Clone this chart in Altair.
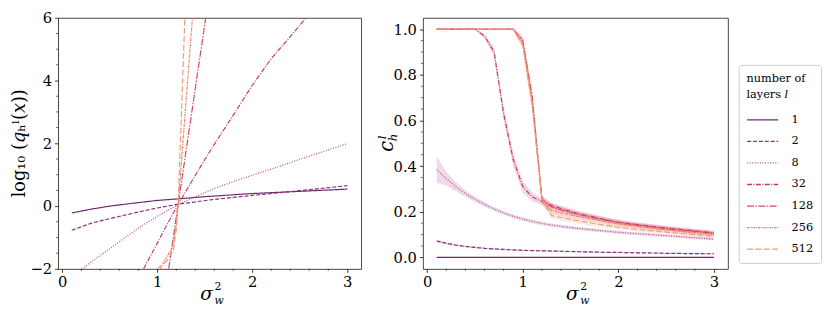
import altair as alt
import pandas as pd

FONT = "DejaVu Serif"

# ---------------- series meta ----------------
LAYERS = ["1", "2", "8", "32", "128", "256", "512"]
COLORS = ["#6a2a6e", "#8a2f78", "#b0468a", "#c43a6f", "#d9485c", "#ec7a5e", "#f19c7a"]
DASHES = [[1, 0], [4, 2], [1, 1.6], [5, 1.5, 1, 1.5], [7, 1.5, 1.5, 1.5], [2.5, 1, 1, 1], [6, 2.5]]

# ---------------- left panel: log10(q_h^l(x)) ----------------
L1_X = [0.1, 0.3, 0.5, 0.8, 1.0, 1.22, 1.5, 2.0, 2.5, 3.0]
L1_Y = [-0.22, -0.10, 0.0, 0.11, 0.18, 0.23, 0.30, 0.40, 0.47, 0.54]
L2_X = [0.1, 0.3, 0.5, 0.8, 1.0, 1.22, 1.56, 2.0, 2.5, 3.0]
L2_Y = [-0.77, -0.55, -0.40, -0.19, -0.06, 0.06, 0.20, 0.34, 0.49, 0.65]
L8_X = [0.21, 0.3, 0.4, 0.5, 0.6, 0.7, 0.8, 0.9, 1.0, 1.1, 1.22, 1.4, 1.6, 1.8, 2.0, 2.26, 2.5, 2.75, 3.0]
L8_Y = [-2.0, -1.79, -1.57, -1.36, -1.14, -0.92, -0.70, -0.51, -0.33, -0.15, 0.05, 0.30, 0.56, 0.78, 0.98, 1.24, 1.49, 1.74, 1.99]
L32_X = [0.856, 1.0, 1.1, 1.22, 1.4, 1.56, 1.8, 2.0, 2.2, 2.4, 2.565]
L32_Y = [-2.0, -1.18, -0.60, 0.06, 0.98, 1.78, 2.90, 3.85, 4.70, 5.40, 6.0]
L128_X = [1.12, 1.22, 1.51]
L128_Y = [-2.0, 0.06, 6.0]
L256_X = [1.03, 1.10, 1.16, 1.20, 1.22, 1.37]
L256_Y = [-2.0, -1.62, -1.30, -0.60, 0.06, 6.0]
L512_X = [1.0, 1.10, 1.17, 1.20, 1.22, 1.29]
L512_Y = [-2.0, -1.75, -1.40, -0.75, 0.06, 6.0]

LEFT_X = [L1_X, L2_X, L8_X, L32_X, L128_X, L256_X, L512_X]
LEFT_Y = [L1_Y, L2_Y, L8_Y, L32_Y, L128_Y, L256_Y, L512_Y]

# ---------------- right panel: c_h^l ----------------
SIG = [0.1, 0.2, 0.3, 0.4, 0.5, 0.6, 0.7, 0.8, 0.9, 1.0,
       1.1, 1.2, 1.3, 1.4, 1.5, 1.6, 1.7, 1.8, 1.9, 2.0,
       2.1, 2.2, 2.3, 2.4, 2.5, 2.6, 2.7, 2.8, 2.9, 3.0]
C1 = [0.0] * 30
C2 = [0.072, 0.062, 0.054, 0.048, 0.044, 0.040, 0.037, 0.035, 0.033, 0.031,
      0.030, 0.029, 0.028, 0.027, 0.026, 0.025, 0.024, 0.023, 0.022, 0.022,
      0.021, 0.020, 0.020, 0.019, 0.018, 0.018, 0.017, 0.017, 0.016, 0.016]
C8 = [0.385, 0.345, 0.310, 0.280, 0.255, 0.232, 0.212, 0.195, 0.180, 0.168,
      0.158, 0.149, 0.142, 0.136, 0.131, 0.126, 0.122, 0.118, 0.114, 0.110,
      0.107, 0.104, 0.101, 0.098, 0.095, 0.092, 0.089, 0.086, 0.083, 0.080]
C32 = [1.0, 1.0, 1.0, 1.0, 1.0, 0.970, 0.900, 0.630, 0.430, 0.310,
       0.265, 0.245, 0.228, 0.214, 0.202, 0.190, 0.181, 0.172, 0.163, 0.155,
       0.149, 0.144, 0.139, 0.134, 0.129, 0.125, 0.120, 0.116, 0.112, 0.107]
C128 = [1.0, 1.0, 1.0, 1.0, 1.0, 1.0, 1.0, 1.0, 1.0, 0.950,
        0.700, 0.255, 0.222, 0.208, 0.197, 0.187, 0.178, 0.169, 0.161, 0.153,
        0.147, 0.141, 0.136, 0.131, 0.127, 0.122, 0.118, 0.114, 0.110, 0.105]
C256 = [1.0, 1.0, 1.0, 1.0, 1.0, 1.0, 1.0, 1.0, 1.0, 0.940,
        0.680, 0.250, 0.205, 0.195, 0.186, 0.178, 0.170, 0.162, 0.155, 0.148,
        0.142, 0.136, 0.131, 0.126, 0.122, 0.117, 0.113, 0.109, 0.105, 0.101]
C512 = [1.0, 1.0, 1.0, 1.0, 1.0, 1.0, 1.0, 1.0, 1.0, 0.930,
        0.660, 0.255, 0.183, 0.175, 0.167, 0.159, 0.152, 0.145, 0.139, 0.133,
        0.128, 0.123, 0.119, 0.115, 0.111, 0.107, 0.103, 0.100, 0.096, 0.093]
# half-width of the shaded band
S1 = [0.0] * 30
S2 = [0.005, 0.005, 0.004, 0.004, 0.004, 0.004, 0.004, 0.004, 0.004, 0.004,
      0.003, 0.003, 0.003, 0.003, 0.003, 0.003, 0.003, 0.003, 0.003, 0.003,
      0.003, 0.003, 0.003, 0.003, 0.003, 0.003, 0.003, 0.003, 0.003, 0.003]
S8 = [0.058, 0.030, 0.020, 0.015, 0.012, 0.010, 0.009, 0.008, 0.008, 0.008,
      0.008, 0.008, 0.007, 0.007, 0.007, 0.007, 0.007, 0.007, 0.007, 0.007,
      0.006, 0.006, 0.006, 0.006, 0.006, 0.006, 0.006, 0.006, 0.006, 0.006]
S32 = [0.002, 0.002, 0.002, 0.002, 0.004, 0.010, 0.020, 0.030, 0.030, 0.025,
       0.020, 0.015, 0.012, 0.012, 0.012, 0.012, 0.011, 0.011, 0.011, 0.011,
       0.010, 0.010, 0.010, 0.010, 0.010, 0.010, 0.010, 0.010, 0.010, 0.010]
S128 = [0.002, 0.002, 0.002, 0.002, 0.002, 0.002, 0.002, 0.002, 0.004, 0.020,
        0.030, 0.020, 0.015, 0.013, 0.012, 0.012, 0.012, 0.011, 0.011, 0.011,
        0.010, 0.010, 0.010, 0.010, 0.010, 0.010, 0.010, 0.010, 0.010, 0.010]
S256 = S128
S512 = S128

RIGHT_C = [C1, C2, C8, C32, C128, C256, C512]
RIGHT_S = [S1, S2, S8, S32, S128, S256, S512]

# minor ticks
X_MINOR = [0.2, 0.4, 0.6, 0.8, 1.2, 1.4, 1.6, 1.8, 2.2, 2.4, 2.6, 2.8]
YL_MINOR = [-1.5, -1.0, -0.5, 0.5, 1.0, 1.5, 2.5, 3.0, 3.5, 4.5, 5.0, 5.5]
YR_MINOR = [0.05, 0.10, 0.15, 0.25, 0.30, 0.35, 0.45, 0.50, 0.55, 0.65, 0.70, 0.75,
            0.85, 0.90, 0.95]

# ---------------- tables ----------------
rows = []
for lay, xs, ys in zip(LAYERS, LEFT_X, LEFT_Y):
    for xv, yv in zip(xs, ys):
        rows.append({"layers": lay, "x": xv, "y": yv})
df_left = pd.DataFrame(rows)

rows = []
for lay, cs, ss in zip(LAYERS, RIGHT_C, RIGHT_S):
    for xv, cv, sv in zip(SIG, cs, ss):
        rows.append({"layers": lay, "x": xv, "c": cv, "lo": cv - sv, "hi": cv + sv})
df_right = pd.DataFrame(rows)

W_L, W_R, H = 309, 311, 256
XDOM = [-0.045, 3.145]

color_scale = alt.Scale(domain=LAYERS, range=COLORS)
dash_scale = alt.Scale(domain=LAYERS, range=DASHES)

x_axis = alt.Axis(values=[0, 1, 2, 3], format="d", title=None, labelFlush=False)
xq = alt.X("x:Q", scale=alt.Scale(domain=XDOM, nice=False, zero=False), axis=x_axis)

legend = alt.Legend(
    title=["number of", "layers 𝑙"], orient="none", legendX=694, legendY=48,
    symbolType="stroke", symbolSize=1000, symbolStrokeWidth=1.3,
    labelFont=FONT, labelFontSize=11.5, titleFont=FONT, titleFontSize=11.5,
    titleFontWeight="normal", titlePadding=3, rowPadding=-5, labelOffset=13,
    titleLineHeight=17,
    strokeColor="#cccccc", cornerRadius=3, padding=8, fillColor="white",
)


def minor_x():
    return alt.Chart(pd.DataFrame({"v": X_MINOR})).mark_rule(color="black", strokeWidth=0.6).encode(
        x=alt.X("v:Q"), y=alt.value(H), y2=alt.value(H + 2)
    )


def minor_y(vals):
    return alt.Chart(pd.DataFrame({"v": vals})).mark_rule(color="black", strokeWidth=0.6).encode(
        y=alt.Y("v:Q"), x=alt.value(0), x2=alt.value(-2)
    )


def text_at(txt, x, y, size=17, style="normal", angle=0, align="center", baseline="alphabetic"):
    return alt.Chart(alt.Data(values=[{}])).mark_text(
        text=txt, font=FONT, fontSize=size, fontStyle=style, angle=angle,
        align=align, baseline=baseline, color="black",
    ).encode(x=alt.value(x), y=alt.value(y))


def xtitle(w):
    c = w / 2
    return [
        text_at("σ", c - 3, H + 32, size=19, style="italic"),
        text_at("2", c + 5, H + 22, size=11, align="left"),
        text_at("w", c + 5, H + 36, size=11, style="italic", align="left"),
    ]


def lines(df, ycol, yaxis, ydom):
    return alt.Chart(df).mark_line(strokeWidth=1.2, clip=True).encode(
        x=xq,
        y=alt.Y(f"{ycol}:Q", scale=alt.Scale(domain=ydom, nice=False), axis=yaxis),
        color=alt.Color("layers:N", scale=color_scale, legend=legend),
        strokeDash=alt.StrokeDash("layers:N", scale=dash_scale, legend=legend),
    )


# ---------------- left panel ----------------
left_lines = lines(
    df_left, "y",
    alt.Axis(values=[-2, 0, 2, 4, 6], title=None, labelFlush=False,
             labelExpr="replace(datum.label, '-', '−')"),
    [-2, 6],
)

left = alt.layer(
    left_lines,
    minor_x(),
    minor_y(YL_MINOR),
    text_at("log₁₀ (𝑞ₕˡ(𝑥))", -34, H / 2, size=18, angle=270),
    *xtitle(W_L),
).properties(width=W_L, height=H)

# ---------------- right panel ----------------
bands = alt.Chart(df_right).mark_area(opacity=0.2, clip=True).encode(
    x=xq,
    y=alt.Y("lo:Q"),
    y2="hi:Q",
    fill=alt.Fill("layers:N", scale=color_scale, legend=None),
    detail="layers:N",
)

right_lines = lines(
    df_right, "c",
    alt.Axis(values=[0, 0.2, 0.4, 0.6, 0.8, 1.0], format=".1f", title=None, labelFlush=False),
    [-0.05, 1.05],
)

right = alt.layer(
    bands,
    right_lines,
    minor_x(),
    minor_y(YR_MINOR),
    text_at("𝑐", -30, H / 2 + 3, size=20, angle=270),
    text_at("𝑙", -38, H / 2 - 6, size=12, angle=270),
    text_at("ℎ", -26, H / 2 - 6, size=12, angle=270),
    *xtitle(W_R),
).properties(width=W_R, height=H)

chart = alt.hconcat(left, right, spacing=63, bounds="flush").resolve_scale(
    color="shared", strokeDash="shared"
).properties(
    padding={"left": 2, "top": -1, "right": 0, "bottom": 0}
).configure_view(
    stroke="#444444", strokeWidth=1
).configure_axis(
    domain=False, grid=False, labelFont=FONT, labelFontSize=15, labelColor="black",
    tickColor="black", tickSize=3.5, tickWidth=0.8, labelPadding=3, labelOverlap=False,
)

chart.save("out.html", embed_options={"renderer": "svg", "actions": False})
